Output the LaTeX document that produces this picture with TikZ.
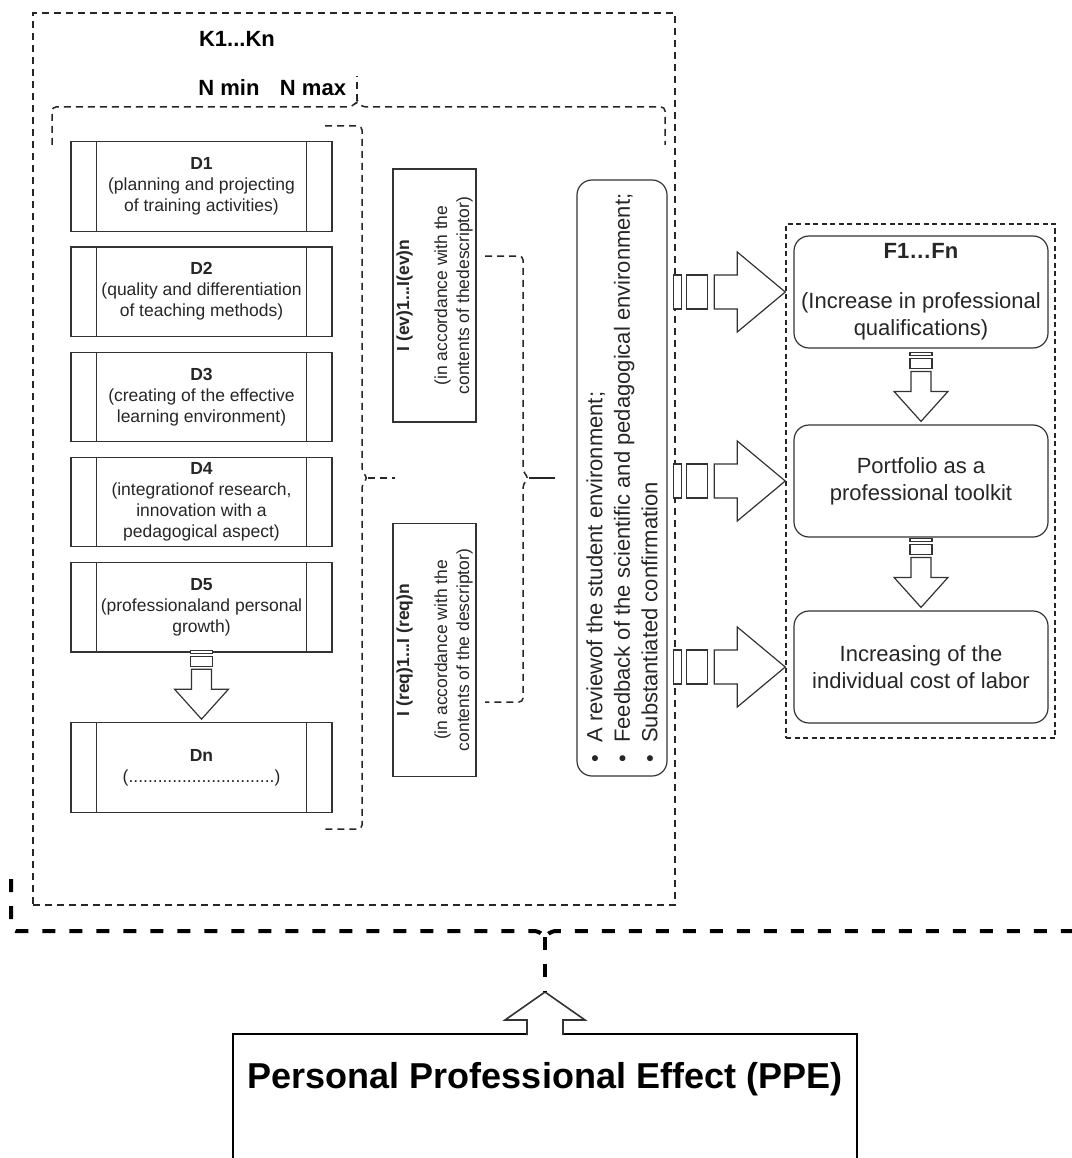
\documentclass[tikz,border=0pt]{standalone}
\usepackage{fontspec}
\setmainfont{Liberation Sans}
\usetikzlibrary{positioning,calc}

\begin{document}
\begin{tikzpicture}[x=1pt,y=-1pt,
  dbox/.style={rectangle,draw=black!80,line width=1.2pt,minimum width=261pt,minimum height=89.5pt,align=center,font=\fontsize{17.5}{21}\selectfont,text=black!85},
  ibox/.style={rectangle,draw=black!80,line width=1.2pt,rotate=90,minimum width=253pt,minimum height=83pt,align=center,font=\fontsize{17.5}{22}\selectfont,text=black!85},
  fnode/.style={rectangle,rounded corners=15pt,draw=black!80,line width=1.2pt,minimum width=254pt,minimum height=112pt,align=center,font=\fontsize{22}{27}\selectfont,text=black!85},
  dashframe/.style={draw=black!85,line width=1.5pt,dash pattern=on 7pt off 5pt},
  dbrace/.style={dashframe,rounded corners=4pt},
  bigdash/.style={draw=black,line width=4pt,dash pattern=on 13pt off 14pt},
  blk/.style={draw=black!80,line width=1.2pt,fill=white},
  lbl/.style={font=\fontsize{22}{26}\selectfont\bfseries},
  darrow/.pic={
    \draw[blk] (-11,-72) rectangle (11,-69);
    \draw[blk] (-11,-66) rectangle (11,-56);
    \draw[blk] (-10,-53) -- (-10,-33) -- (-27,-33) -- (0,-3) -- (27,-33) -- (10,-33) -- (10,-53) -- cycle;
  },
  rarrow/.pic={
    \draw[blk] (-112,-17) rectangle (-104,17);
    \draw[blk] (-99,-17) rectangle (-78,17);
    \draw[blk] (-71,-17) -- (-48,-17) -- (-48,-40) -- (0,0) -- (-48,40) -- (-48,17) -- (-71,17) -- cycle;
  }]
  \useasboundingbox (0,0) rectangle (1071,1158);

  % containers
  \node[dashframe,minimum width=642pt,minimum height=892pt] (kgroup) at (354,459) {};
  \node[dashframe,dash pattern=on 5pt off 3.5pt,minimum width=269pt,minimum height=514pt] (fgroup) at (920.5,481) {};

  \node[lbl] (klbl) at (237,39) {K1...Kn};
  \node[lbl] (nmin) at (229,88) {N min};
  \node[lbl] (nmax) at (313,88) {N max};

  % descriptors
  \node[dbox] (d1) at (201.5,186.5) {\textbf{D1}\\(planning and projecting\\of training activities)};
  \node[dbox,below=14.5pt] (d2) at (d1.south) {\textbf{D2}\\(quality and differentiation\\of teaching methods)};
  \node[dbox,below=14.5pt] (d3) at (d2.south) {\textbf{D3}\\(creating of the effective\\learning environment)};
  \node[dbox,below=14.5pt] (d4) at (d3.south) {\textbf{D4}\\(integrationof research,\\innovation with a\\pedagogical aspect)};
  \node[dbox,below=14.5pt] (d5) at (d4.south) {\textbf{D5}\\(professionaland personal\\growth)};
  \node[dbox] (dn) at (201.5,767.5) {\textbf{Dn}\\(..............................)};
  \foreach \d in {d1,d2,d3,d4,d5,dn} {
    \draw[black!80,line width=1.2pt] ([xshift=26pt]\d.north west) -- ([xshift=26pt]\d.south west);
    \draw[black!80,line width=1.2pt] ([xshift=-26pt]\d.north east) -- ([xshift=-26pt]\d.south east);
  }
  \pic at (dn.north) {darrow};

  % indicators
  \node[ibox] (iev) at (434.5,295.5) {\textbf{I (ev)1...I(ev)n}\\[16pt](in accordance with the\\contents of thedescriptor)};
  \node[ibox] (ireq) at (434.5,650) {\textbf{I (req)1...I (req)n}\\[16pt](in accordance with the\\contents of the descriptor)};

  \node[rectangle,rounded corners=15pt,draw=black!80,line width=1.2pt,rotate=90,minimum width=596pt,minimum height=90pt,align=left,font=\fontsize{22}{27.5}\selectfont,text=black!85] (feed) at (622,478)
    {\textbullet\hspace{12pt}A reviewof the student environment;\\
     \textbullet\hspace{12pt}Feedback of the scientific and pedagogical environment;\\
     \textbullet\hspace{12pt}Substantiated confirmation};

  % braces
  \coordinate (ntop) at (357,76);
  \draw[dbrace] (52,145) -- (52,107) -- (352,107) -- (357,101) coordinate (b0tip) -- (362,107) -- (665,107) -- (665,145);
  \draw[dashframe] (b0tip) -- (ntop);

  \coordinate (b1end) at (395,478);
  \draw[dbrace] (325,126) -- (362,126) -- (362,472) -- (368,478) coordinate (b1tip) -- (362,484) -- (362,829) -- (325,829);
  \draw[dashframe] (b1tip) -- (b1end);

  \coordinate (b2end) at (555,478);
  \draw[dbrace] (485,256) -- (523,256) -- (523,472) -- (529,478) coordinate (b2tip) -- (523,484) -- (523,702) -- (485,702);
  \draw[black!85,line width=1.5pt] (b2tip) -- (b2end);

  % effects
  \node[fnode] (f1) at (921,292) {\textbf{F1…Fn}\\[23pt](Increase in professional\\qualifications)};
  \node[fnode] (f2) at (921,481) {Portfolio as a\\professional toolkit};
  \node[fnode] (f3) at (921,667) {Increasing of the\\individual cost of labor};
  \pic at (f2.north) {darrow};
  \pic at (f3.north) {darrow};
  \foreach \f in {f1,f2,f3}
    \pic at (fgroup.west |- \f) {rarrow};

  % personal professional effect
  \draw[bigdash,rounded corners=5pt] (11,879) -- (11,931) -- (539,931) -- (545,937) coordinate (b3tip) -- (551,931) -- (1079,931) -- (1079,879);
  \node[draw=black,line width=1.6pt,minimum width=624pt,anchor=north,text height=26pt,text depth=120pt,inner ysep=29pt,font=\fontsize{36}{40}\selectfont\bfseries] (ppe) at (545,1033) {Personal Professional Effect (PPE)};
  \filldraw[blk,line width=1.6pt] ([xshift=-18pt,yshift=-2pt]ppe.north) -- ++(0,-15) -- ++(-22,0) -- ++(40,-28) coordinate (ptip) -- ++(40,28) -- ++(-22,0) -- ++(0,15);
  \draw[bigdash] (b3tip) -- (ptip);
\end{tikzpicture}
\end{document}
